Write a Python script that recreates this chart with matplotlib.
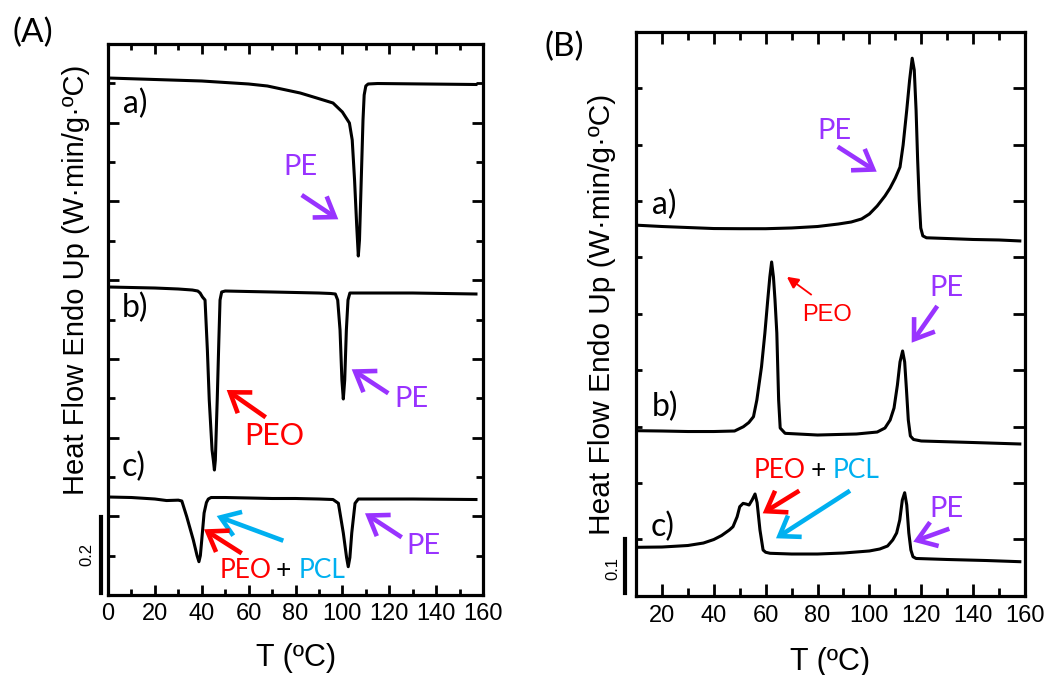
import matplotlib
matplotlib.use("Agg")
import matplotlib.pyplot as plt
from matplotlib.ticker import MultipleLocator
from matplotlib.patches import FancyArrowPatch
from matplotlib.lines import Line2D

plt.rcParams['font.family'] = 'sans-serif'
plt.rcParams['font.sans-serif'] = ['Liberation Sans', 'Arial', 'DejaVu Sans']

# ---------------- data ----------------
# Panel A (cooling scans), x = T (ºC), y = heat flow (W·min/g·ºC, offset)
TA_a = [0, 20, 40, 60, 68, 82, 89, 96, 100, 103, 104.2, 105.2, 106.1, 106.8, 107.3, 107.8,
        108.3, 108.8, 109.3, 110, 111, 115, 157]
HA_a = [1.3136, 1.3098, 1.3060, 1.2984, 1.2933, 1.2755, 1.2629, 1.2501, 1.2272, 1.1993, 1.1561,
        1.0544, 0.9401, 0.8613, 0.9020, 1.0037, 1.1052, 1.2069, 1.2704, 1.2933, 1.2984, 1.2996, 1.2971]

TA_b = [0, 10, 20, 30, 36, 38.3, 39.3, 40.3, 41.4, 42.4, 43.2, 44.4, 45.0, 45.4, 45.8, 46.2, 46.6,
        47.3, 47.8, 48.5, 50, 60, 70, 80, 90, 95, 97, 98, 99, 99.8, 100.4, 101, 101.7, 102.4, 103.2,
        110, 130, 157]
HA_b = [.7826, .7813, .7800, .7775, .7749, .7724, .7673, .7572, .7495, .6225, .4955, .3684, .3400,
        .3176, .3430, .4200, .4955, .6479, .7495, .7699, .7724, .7711, .7699, .7686, .7673, .7661,
        .7648, .7495, .6733, .5463, .4980, .5463, .6733, .7495, .7673, .7673, .7673, .7648]

TA_c = [0, 10, 20, 25, 30, 31.5, 33.6, 36.4, 38.0, 38.8, 39.4, 40, 41, 42, 42.8, 44, 50, 60, 70, 80,
        90, 96, 98.3, 100.4, 101.8, 102.5, 103.2, 104, 105.4, 106.8, 110, 130, 157]
HA_c = [.2490, .2477, .2439, .2400, .2410, .2388, .1989, .1397, .1000, .0846, .1000, .1397, .2083,
        .2350, .2439, .2477, .2477, .2465, .2452, .2452, .2439, .2426, .2330, .1575, .0950, .0719,
        .0950, .1575, .2330, .2439, .2439, .2439, .2426]

# Panel B (heating scans)
TB_a = [10, 20, 30, 40, 50, 60, 70, 80, 88, 93, 97, 100, 103, 106, 108, 110, 111.8, 113, 114.4,
        115.5, 116.5, 117.3, 118, 118.6, 119.2, 119.8, 120.6, 122, 130, 140, 150, 158]
HB_a = [.657, .6546, .6528, .651, .6507, .6507, .652, .6546, .659, .6626, .668, .6768, .691, .7087,
        .723, .7406, .760, .799, .861, .914, .953, .932, .861, .773, .702, .652, .638, .6346, .6333,
        .6316, .6307, .629]

TB_b = [10, 20, 30, 40, 48, 51.4, 53.5, 55.3, 56.6, 58.4, 59.7, 60.8, 61.6, 62.3, 63.0, 63.6, 64.3,
        65.0, 65.6, 67.5, 80, 95, 103, 106, 108, 109.5, 110.8, 111.8, 112.8, 113.6, 114.3, 115, 115.8,
        117, 120, 140, 158]
HB_b = [.2926, .2920, .2911, .2911, .2920, .2996, .3070, .3174, .3470, .4060, .4658, .5243, .5650,
        .5917, .5650, .5243, .4658, .3470, .2973, .2879, .2849, .2867, .2902, .2973, .3115, .3328,
        .3736, .4144, .4339, .4144, .3647, .3115, .2832, .2770, .2743, .2716, .2690]

TB_c = [10, 20, 30, 36, 40, 43, 46, 47.4, 49, 50, 51.3, 52.5, 53.6, 54.8, 55.9, 56.7, 57.8, 59, 60,
        61.7, 70, 80, 90, 100, 104, 107, 109, 110.5, 111.7, 112.7, 113.6, 114.4, 115.2, 116, 116.8,
        118, 130, 145, 158]
HB_c = [.0858, .0863, .0890, .0934, .0996, .1067, .1165, .1223, .1400, .1578, .1637, .1625, .1608,
        .1700, .1803, .1650, .1165, .0810, .0770, .0752, .0739, .0739, .0757, .0793, .0828, .0881,
        .0988, .1112, .1342, .1697, .1826, .1608, .1112, .0810, .0691, .0660, .0642, .0624, .0603]

XTICKS_A = [0, 20, 40, 60, 80, 100, 120, 140, 160]
XTICKS_B = [20, 40, 60, 80, 100, 120, 140, 160]
CURVE_LABELS = ["a)", "b)", "c)"]
YLABEL = "Heat Flow Endo Up (W·min/g·ºC)"
XLABEL = "T (ºC)"
SCALE_A = "0.2"
SCALE_B = "0.1"

# ---------------- figure ----------------
W, H = 1046, 675
fig = plt.figure(figsize=(W / 100, H / 100), dpi=100)

MAIN_FONT = ['Liberation Sans', 'DejaVu Sans']
PURPLE = '#9933FF'
RED = '#FF0000'
BLUE = '#00B0F0'
ANN_FONT = ['Lato', 'DejaVu Sans']


def fp(x, y):
    return (x / W, 1 - y / H)


def box(l, t, r, b):
    return [l / W, 1 - b / H, (r - l) / W, (b - t) / H]


axA = fig.add_axes(box(108, 44, 483, 595))
axB = fig.add_axes(box(636, 31.7, 1025, 595.7))

LW_CURVE = 2.2
for t, h in [(TA_a, HA_a), (TA_b, HA_b), (TA_c, HA_c)]:
    axA.plot(t, h, color='black', lw=LW_CURVE, solid_joinstyle='round')
for t, h in [(TB_a, HB_a), (TB_b, HB_b), (TB_c, HB_c)]:
    axB.plot(t, h, color='black', lw=LW_CURVE, solid_joinstyle='round')

axA.set_xlim(0, 160)
axA.set_ylim(0, 1.4)
axB.set_xlim(10, 160)
axB.set_ylim(0, 1.0)

for ax in (axA, axB):
    for s in ax.spines.values():
        s.set_linewidth(2.3)

# Panel A ticks
axA.set_xticks(XTICKS_A)
axA.xaxis.set_minor_locator(MultipleLocator(10))
axA.yaxis.set_major_locator(MultipleLocator(0.2))
axA.yaxis.set_minor_locator(MultipleLocator(0.1))
axA.tick_params(axis='both', which='both', direction='in', top=True, right=True, width=2.0)
axA.tick_params(axis='x', which='major', length=7.5, labelsize=17, pad=6)
axA.tick_params(axis='x', which='minor', length=4)
axA.tick_params(axis='y', which='major', length=8)
axA.tick_params(axis='y', which='minor', length=5)
axA.set_yticklabels([])

# Panel B ticks
axB.set_xticks(XTICKS_B)
axB.xaxis.set_minor_locator(MultipleLocator(10))
axB.yaxis.set_major_locator(MultipleLocator(0.1))
axB.yaxis.set_minor_locator(MultipleLocator(0.1))
axB.yaxis.remove_overlapping_locs = False
axB.tick_params(axis='both', which='both', direction='in', top=True, width=2.0)
axB.tick_params(axis='x', which='major', length=8.5, labelsize=17, pad=7)
axB.tick_params(axis='x', which='minor', length=5.5)
axB.tick_params(axis='y', which='major', left=False, right=True, length=8.5)
axB.tick_params(axis='y', which='minor', left=True, right=False, length=4)
axB.set_yticklabels([])

for ax in (axA, axB):
    for lab in ax.get_xticklabels():
        lab.set_family(MAIN_FONT)

# Axis labels
fig.text(*fp(296, 658), XLABEL, ha='center', va='center', fontsize=22, family=MAIN_FONT)
fig.text(*fp(830, 662), XLABEL, ha='center', va='center', fontsize=22, family=MAIN_FONT)
fig.text(*fp(76, 280), YLABEL, ha='center', va='center', rotation=90, fontsize=21, family=MAIN_FONT)
fig.text(*fp(602, 314), YLABEL, ha='center', va='center', rotation=90, fontsize=21.5, family=MAIN_FONT)

# Panel tags
fig.text(*fp(33, 33), "(A)", ha='center', va='center', fontsize=24, family=ANN_FONT)
fig.text(*fp(564, 47), "(B)", ha='center', va='center', fontsize=24, family=ANN_FONT)

# Curve labels
for (x, y), s in zip([(135, 104), (135, 308), (134, 467)], CURVE_LABELS):
    fig.text(*fp(x, y), s, ha='center', va='center', fontsize=23, family=ANN_FONT)
for (x, y), s in zip([(664, 205), (665, 407), (663, 527)], CURVE_LABELS):
    fig.text(*fp(x, y), s, ha='center', va='center', fontsize=23, family=ANN_FONT)


def ann(x, y, s, color, size, family=ANN_FONT):
    fig.text(*fp(x, y), s, ha='center', va='center', color=color, fontsize=size, family=family)


def arrow(x0, y0, x1, y1, color, lw=3.3, thin=False):
    if thin:
        style = "-|>,head_length=0.6,head_width=0.3"
        ms = 12
    else:
        style = "->,head_length=0.55,head_width=0.38"
        ms = 24
    a = FancyArrowPatch(fp(x0, y0), fp(x1, y1), transform=fig.transFigure,
                        arrowstyle=style, mutation_scale=ms, lw=lw, color=color,
                        shrinkA=0, shrinkB=0, capstyle='butt', joinstyle='miter')
    fig.add_artist(a)


# Panel A annotations
ann(300, 167, "PE", PURPLE, 21)
arrow(301.7, 195, 338.3, 219.3, PURPLE)
ann(274, 436, "PEO", RED, 22)
arrow(265.7, 417.3, 226.7, 390, RED)
ann(411, 399, "PE", PURPLE, 21)
arrow(388.3, 393.3, 351.7, 369.3, PURPLE)
ann(245.8, 570, "PEO", RED, 19)
ann(283.3, 570, "+", 'black', 19)
ann(321.7, 570, "PCL", BLUE, 19)
arrow(283.3, 540.7, 216.7, 516, BLUE)
arrow(241.7, 553.3, 204, 529.3, RED)
ann(423, 546, "PE", PURPLE, 21)
arrow(401.7, 537.3, 365, 513.3, PURPLE)

# Panel B annotations
ann(834, 131, "PE", PURPLE, 21)
arrow(837.7, 146.7, 876.7, 171.7, PURPLE)
ann(826.7, 315, "PEO", RED, 17, family=MAIN_FONT)
arrow(811.7, 295, 786.7, 276.7, RED, lw=1.3, thin=True)
ann(946.7, 287.5, "PE", PURPLE, 21)
arrow(937.3, 306, 911.7, 342.7, PURPLE)
ann(779.2, 470, "PEO", RED, 19)
ann(818.3, 470, "+", 'black', 19)
ann(856.2, 470, "PCL", BLUE, 19)
arrow(799.3, 490.7, 762.7, 513.3, RED)
arrow(850, 490.7, 776, 538.3, BLUE)
ann(946.7, 509, "PE", PURPLE, 21)
arrow(949.3, 528.7, 913.3, 541.7, PURPLE)

# Scale bars
fig.add_artist(Line2D([101 / W, 101 / W], [1 - 516.7 / H, 1 - 593.3 / H], color='black', lw=3,
                      transform=fig.transFigure))
fig.text(*fp(87, 554), SCALE_A, ha='center', va='center', rotation=90, fontsize=12, family=MAIN_FONT)
fig.add_artist(Line2D([625 / W, 625 / W], [1 - 539.3 / H, 1 - 592.7 / H], color='black', lw=3,
                      transform=fig.transFigure))
fig.text(*fp(612.5, 568), SCALE_B, ha='center', va='center', rotation=90, fontsize=12, family=MAIN_FONT)

fig.savefig("out.png", dpi=100)
